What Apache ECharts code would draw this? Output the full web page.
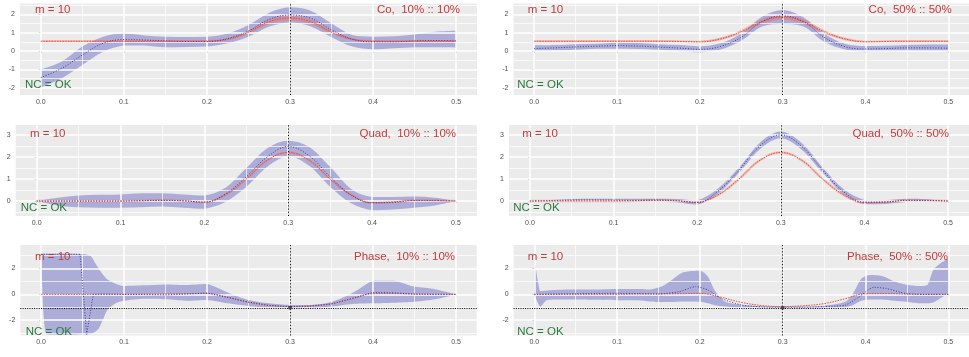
<!DOCTYPE html>
<html><head><meta charset="utf-8">
<script src="https://cdn.jsdelivr.net/npm/echarts@6/dist/echarts.min.js"></script>
<style>html,body{margin:0;padding:0;background:#fff}#c{width:969px;height:357px}</style>
</head><body><div id="c"></div>
<script>
// ---------- data ----------
const xGrid = [0,0.025,0.05,0.075,0.1,0.125,0.15,0.175,0.2,0.225,0.25,0.275,0.3,0.325,0.35,0.375,0.4,0.425,0.45,0.475,0.5];
const xTicks = [0,0.1,0.2,0.3,0.4,0.5];
const xMinor = [0.05,0.15,0.25,0.35,0.45];
const yTicksCo = [-2,-1,0,1,2], yMinorCo = [-1.5,-0.5,0.5,1.5,2.5];
const yTicksQuad = [0,1,2,3], yMinorQuad = [-0.5,0.5,1.5,2.5];
const yTicksPhase = [-2,0,2], yMinorPhase = [-3,-1,1,3];
const refX = 0.3, phaseRef = -1.05;

// Co 10%
const co10True = [.53,.53,.53,.53,.53,.53,.53,.53,.54,.64,1.02,1.6,1.79,1.6,1.02,.64,.54,.53,.53,.53,.53];
const co10Half = [.06,.06,.06,.06,.06,.06,.06,.06,.06,.07,.1,.13,.14,.13,.1,.07,.06,.06,.06,.06,.06];
const co10Mean = [-1.45,-0.95,-0.22,0.42,0.62,0.6,0.55,0.52,0.52,0.68,1.09,1.73,1.96,1.78,1.15,0.64,0.5,0.5,0.55,0.57,0.55];
const co10Lo   = [-1.98,-1.5,-0.77,-0.04,0.3,0.3,0.2,0.22,0.24,0.42,0.78,1.33,1.55,1.33,0.75,0.24,0.09,0.15,0.2,0.2,0.18];
const co10Hi   = [-1.0,-0.58,0.24,0.78,0.95,0.85,0.78,0.76,0.78,0.96,1.42,2.09,2.38,2.2,1.5,0.87,0.78,0.8,0.9,1.05,1.1];
// Co 50%
const co50True = [.53,.53,.53,.53,.53,.53,.53,.52,.5,.66,1.05,1.6,1.85,1.6,1.05,.66,.5,.52,.53,.53,.53];
const co50Half = [.05,.05,.05,.05,.05,.05,.05,.05,.05,.07,.1,.13,.15,.13,.1,.07,.05,.05,.05,.05,.05];
const co50Mean = [.13,.17,.22,.26,.29,.27,.22,.16,.09,.25,.75,1.6,1.91,1.6,.75,.24,.11,.13,.17,.17,.15];
const co50Lo   = [.0,.03,.07,.12,.12,.11,.07,.0,-.07,.08,.56,1.33,1.47,1.33,.5,.08,-.04,-.02,.0,.0,-.04];
const co50Hi   = [.3,.32,.37,.4,.45,.43,.37,.32,.26,.42,.96,1.87,2.24,1.84,.96,.4,.27,.28,.33,.35,.36];
// Quad
const quadTrue   = [0,0,0,0,0,.01,.03,.01,-.05,.28,1.0,1.85,2.2,1.85,1.0,.28,-.07,-.04,.03,.02,0];
const quad10Mean = [0,0,0,0,0,.02,.03,.01,-.05,.32,1.1,2.0,2.47,2.05,1.1,.27,-.08,-.06,.02,.02,0];
const quad10Lo   = [0,-.2,-.28,-.3,-.3,-.28,-.25,-.3,-.35,-.05,.65,1.56,2.02,1.6,.65,-.1,-.42,-.38,-.3,-.2,0];
const quad10Hi   = [0,.15,.25,.28,.3,.35,.35,.3,.25,.6,1.5,2.4,2.74,2.45,1.55,.55,.18,.18,.2,.15,0];
const quad50Mean = [0,.02,.04,.05,.04,.03,.04,.02,-.07,.45,1.4,2.5,3.0,2.48,1.4,.42,-.05,-.05,.03,.03,0];
const quad50Lo   = [0,-.03,-.03,-.04,-.05,-.05,-.04,-.06,-.17,.33,1.28,2.35,2.85,2.33,1.28,.3,-.15,-.13,-.05,-.03,0];
const quad50Hi   = [0,.05,.09,.1,.1,.1,.1,.09,.03,.57,1.52,2.65,3.15,2.63,1.52,.54,.05,.04,.1,.08,0];
// Phase
const phaseTrue = [0,0,0,0,0,.02,.03,.05,.07,-.22,-.62,-.87,-.95,-.88,-.72,-.35,.05,.06,.02,0,0];
const x5Band = [0,0.006,0.03,0.05,0.06,0.065,0.07,0.075,0.08,0.09,0.1,0.125,0.15,0.175,0.2,0.225,0.25,0.275,0.3,0.325,0.35,0.375,0.4,0.425,0.45,0.475,0.5];
const phase10Hi = [3.15,3.15,3.15,3.12,2.95,2.45,1.95,1.5,1.15,0.82,0.65,0.7,0.77,0.72,0.8,0.15,-0.44,-0.7,-0.83,-0.83,-0.6,0.1,1.06,1.06,0.6,0.4,0];
const phase10Lo = [3.1,-3.1,-3.12,-3.1,-3.05,-2.9,-2.6,-1.9,-1.2,-0.7,-0.5,-0.35,-0.39,-0.5,-0.44,-0.7,-0.9,-1.03,-1.08,-1.08,-0.95,-0.75,-0.7,-0.65,-0.57,-0.39,0];
const x5Mean = [0,0.047,0.055,0.063,0.075,0.1,0.125,0.15,0.175,0.2,0.225,0.25,0.275,0.3,0.325,0.35,0.375,0.4,0.425,0.45,0.475,0.5];
const phase10Mean = [3.1,3.1,-3.1,0.0,0.02,0.0,-0.02,-0.05,0.02,0.1,-0.25,-0.6,-0.85,-0.95,-0.92,-0.75,-0.3,0.15,0.12,0.02,0,0];
const x6Band = [0,0.007,0.015,0.03,0.05,0.075,0.1,0.125,0.14,0.155,0.165,0.18,0.2,0.21,0.218,0.23,0.25,0.275,0.3,0.325,0.35,0.375,0.385,0.395,0.405,0.42,0.435,0.45,0.465,0.475,0.483,0.5];
const phase50Hi = [2.8,0.25,0.3,0.36,0.38,0.38,0.42,0.42,0.38,0.65,1.05,1.7,1.83,1.35,0.3,-0.55,-0.8,-0.92,-0.95,-0.95,-0.88,-0.6,0.08,1.2,1.5,1.42,1.0,0.75,0.65,0.75,2.0,2.8];
const phase50Lo = [0.0,-0.95,-0.45,-0.4,-0.4,-0.42,-0.45,-0.45,-0.55,-0.6,-0.6,-0.55,-0.57,-0.7,-0.85,-0.95,-1.05,-1.08,-1.08,-1.08,-1.08,-1.0,-0.83,-0.5,-0.4,-0.4,-0.5,-0.57,-0.7,-0.7,-0.6,0.08];
const x6Mean = [0,0.025,0.05,0.075,0.1,0.125,0.15,0.175,0.195,0.21,0.225,0.25,0.275,0.3,0.325,0.35,0.375,0.39,0.41,0.425,0.45,0.475,0.5];
const phase50Mean = [0,0.02,0.05,0.07,0.08,0.06,0.03,0.2,0.6,0.33,-0.3,-0.83,-0.97,-1.0,-1.0,-0.95,-0.85,-0.3,0.55,0.45,0.05,0,0];

const titles = ['Co,  10% :: 10%','Co,  50% :: 50%','Quad,  10% :: 10%','Quad,  50% :: 50%','Phase,  10% :: 10%','Phase,  50% :: 50%'];

// ---------- layout ----------
const panels = [
 {grid:{left:20,top:3.5,width:457,height:91.5}, y:[-2.4,2.59], yt:yTicksCo, ym:yMinorCo, bx:xGrid, lo:co10Lo, hi:co10Hi, mx:xGrid, mean:co10Mean, tru:co10True, half:co10Half, ten:1, msm:0.4, m:[35,9.5], t:[460,9.5], n:[25,85]},
 {grid:{left:513.5,top:3.5,width:455.5,height:91.5}, y:[-2.4,2.59], yt:yTicksCo, ym:yMinorCo, bx:xGrid, lo:co50Lo, hi:co50Hi, mx:xGrid, mean:co50Mean, tru:co50True, half:co50Half, ten:1, msm:0.4, m:[527.7,9.5], t:[951.7,9.5], n:[517.3,85]},
 {grid:{left:15.7,top:125,width:461.2,height:91}, y:[-0.68,3.45], yt:yTicksQuad, ym:yMinorQuad, bx:xGrid, lo:quad10Lo, hi:quad10Hi, mx:xGrid, mean:quad10Mean, tru:quadTrue, halo:true, ten:1, msm:0.4, m:[30,133.5], t:[456,133.5], n:[20.7,208]},
 {grid:{left:509,top:125,width:460,height:91}, y:[-0.68,3.45], yt:yTicksQuad, ym:yMinorQuad, bx:xGrid, lo:quad50Lo, hi:quad50Hi, mx:xGrid, mean:quad50Mean, tru:quadTrue, halo:true, ten:1, msm:0.4, m:[522.3,133.5], t:[949,133.5], n:[513.3,208]},
 {grid:{left:20.3,top:245,width:456.5,height:90.5}, y:[-3.19,3.82], yt:yTicksPhase, ym:yMinorPhase, bx:x5Band, lo:phase10Lo, hi:phase10Hi, mx:x5Mean, mean:phase10Mean, tru:phaseTrue, phase:true, ten:0.8, msm:0, m:[35,257], t:[455,257], n:[25.7,331.5]},
 {grid:{left:513.6,top:245,width:455.4,height:90.5}, y:[-3.19,3.82], yt:yTicksPhase, ym:yMinorPhase, bx:x6Band, lo:phase50Lo, hi:phase50Hi, mx:x6Mean, mean:phase50Mean, tru:phaseTrue, phase:true, ten:0.8, msm:0.2, m:[527.7,257], t:[948,257], n:[517.3,331.5]}
];

const FONT = '"Liberation Sans", Arial, sans-serif';
const pts = (xs, ys) => xs.map((x, i) => [x, ys[i]]);

// Catmull-Rom through pixel points, control points clamped to each segment's box (no overshoot)
function curve(P, t) {
  let s = '';
  const n = P.length;
  for (let k = 0; k < n - 1; k++) {
    const p0 = P[Math.max(k - 1, 0)], p1 = P[k], p2 = P[k + 1], p3 = P[Math.min(k + 2, n - 1)];
    let c1x = p1[0] + (p2[0] - p0[0]) * t / 6, c1y = p1[1] + (p2[1] - p0[1]) * t / 6;
    let c2x = p2[0] - (p3[0] - p1[0]) * t / 6, c2y = p2[1] - (p3[1] - p1[1]) * t / 6;
    const ylo = Math.min(p1[1], p2[1]), yhi = Math.max(p1[1], p2[1]);
    const xlo = Math.min(p1[0], p2[0]), xhi = Math.max(p1[0], p2[0]);
    c1y = Math.min(Math.max(c1y, ylo), yhi); c2y = Math.min(Math.max(c2y, ylo), yhi);
    c1x = Math.min(Math.max(c1x, xlo), xhi); c2x = Math.min(Math.max(c2x, xlo), xhi);
    s += 'C' + c1x + ',' + c1y + ',' + c2x + ',' + c2y + ',' + p2[0] + ',' + p2[1];
  }
  return s;
}

function ribbon(i, xs, lo, hi, color, ten, z) {
  return {type:'custom', xAxisIndex:i, yAxisIndex:i, silent:true, animation:false, z:z, clip:true,
    data: xs.map((x, k) => [x, lo[k], hi[k]]),
    encode: {x:0, y:[1,2]},
    renderItem: function (params, api) {
      if (params.dataIndexInside !== 0) return null;
      const n = params.dataInsideLength, top = [], bot = [];
      for (let k = 0; k < n; k++) {
        const x = api.value(0, k);
        top.push(api.coord([x, api.value(2, k)]));
        bot.push(api.coord([x, api.value(1, k)]));
      }
      bot.reverse();
      const d = 'M' + top[0][0] + ',' + top[0][1] + curve(top, ten) +
                'L' + bot[0][0] + ',' + bot[0][1] + curve(bot, ten) + 'Z';
      return {type:'path', shape:{pathData:d}, style:{fill:color, stroke:null}};
    }};
}

const grids = [], xAxes = [], yAxes = [], series = [], graphics = [];

panels.forEach((p, i) => {
  grids.push(Object.assign({show:true, backgroundColor:'#EBEBEB', borderWidth:0}, p.grid));
  xAxes.push({gridIndex:i, type:'value', min:-0.025, max:0.525,
    splitLine:{show:false}, axisLine:{show:false},
    axisTick:{show:true, length:2, customValues:xTicks, lineStyle:{color:'#333', width:0.8}},
    axisLabel:{customValues:xTicks, formatter:v=>v.toFixed(1), fontSize:7, color:'#4d4d4d', margin:3.5, fontFamily:FONT}});
  yAxes.push({gridIndex:i, type:'value', min:p.y[0], max:p.y[1],
    splitLine:{show:false}, axisLine:{show:false},
    axisTick:{show:true, length:2, customValues:p.yt, lineStyle:{color:'#333', width:0.8}},
    axisLabel:{customValues:p.yt, fontSize:7, color:'#4d4d4d', margin:5, fontFamily:FONT}});
  const base = {xAxisIndex:i, yAxisIndex:i, symbol:'none', showSymbol:false, silent:true, animation:false};
  const major = {color:'#ffffff', width:1.5, type:'solid'}, minor = {color:'#ffffff', width:0.7, type:'solid'};
  series.push(Object.assign({}, base, {type:'line', data:[], z:1, markLine:{symbol:'none', silent:true, animation:false, label:{show:false}, lineStyle:{type:'solid'},
    data:[].concat(
      xMinor.map(v=>({xAxis:v, lineStyle:minor})),
      p.ym.filter(v=>v>p.y[0]&&v<p.y[1]).map(v=>({yAxis:v, lineStyle:minor})),
      xTicks.map(v=>({xAxis:v, lineStyle:major})),
      p.yt.map(v=>({yAxis:v, lineStyle:major})))}}));
  // blue ribbon
  series.push(ribbon(i, p.bx, p.lo, p.hi, 'rgba(110,110,200,0.5)', p.ten, 2));
  // red ribbon
  if (p.half) {
    series.push(ribbon(i, xGrid, p.tru.map((t,k)=>t-p.half[k]), p.tru.map((t,k)=>t+p.half[k]), 'rgba(240,110,95,0.45)', 1, 3));
  }
  if (p.halo) {
    series.push(Object.assign({}, base, {type:'line', data:pts(xGrid, p.tru), lineStyle:{color:'rgba(240,110,95,0.35)', width:2.6}, smooth:0.4, z:3}));
  }
  // reference lines
  const refs = [{xAxis:refX, lineStyle:{color:'#c4c4c4', width:0.7, type:'solid'}},
                {xAxis:refX, lineStyle:{color:'#000', width:1, type:[1,2.2]}}];
  if (p.phase) refs.push({yAxis:phaseRef, lineStyle:{color:'#000', width:1, type:[1,1.3]}});
  series.push(Object.assign({}, base, {type:'line', data:[], z:4, markLine:{symbol:'none', silent:true, animation:false, label:{show:false}, data:refs}}));
  // true (red) and estimate (blue)
  series.push(Object.assign({}, base, {type:'line', data:pts(xGrid, p.tru), lineStyle:{color:'#e4553b', width:1, type:[1.6,1.1]}, smooth:0.4, z:5}));
  series.push(Object.assign({}, base, {type:'line', data:pts(p.mx, p.mean), lineStyle:{color:'#3c3c9c', width:1, type:[1,1.7]}, smooth:p.msm, z:6}));
  if (p.phase) {
    series.push(Object.assign({}, base, {type:'scatter', data:[[refX, phaseRef]], symbol:'circle', symbolSize:4, itemStyle:{color:'#333'}, z:7}));
  }
  const txt = (x, y, s, color, align) => ({type:'text', x:x, y:y, silent:true, z:100,
    style:{text:s, fill:color, font:'11.5px ' + FONT, align:align, verticalAlign:'middle', textAlign:align, textVerticalAlign:'middle'}});
  graphics.push(txt(p.m[0], p.m[1], 'm = 10', '#c23b3b', 'left'));
  graphics.push(txt(p.t[0], p.t[1], titles[i], '#c23b3b', 'right'));
  graphics.push(txt(p.n[0], p.n[1], 'NC = OK', '#2a7a3e', 'left'));
});

const chart = echarts.init(document.getElementById('c'), null, {renderer:'canvas'});
chart.setOption({animation:false, backgroundColor:'#ffffff', grid:grids, xAxis:xAxes, yAxis:yAxes, series:series, graphic:graphics});
</script>
</body></html>
